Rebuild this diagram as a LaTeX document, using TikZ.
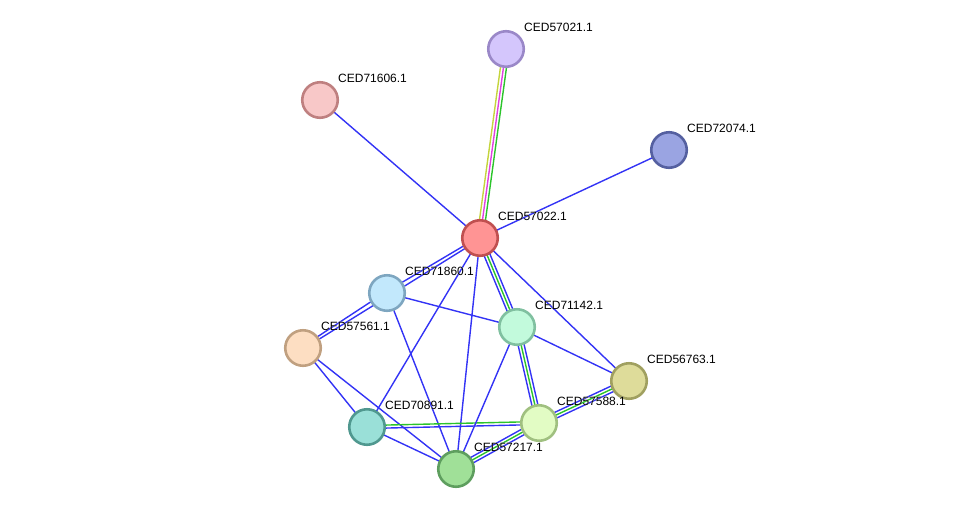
\documentclass[tikz,border=0pt]{standalone}
\usepackage{fontspec}
\setmainfont{Liberation Sans}
\usepackage[outline]{contour}
\contourlength{1.2pt}
\usetikzlibrary{calc, backgrounds}
\definecolor{lnkblue}{HTML}{3333F5}
\definecolor{lnkgreen}{HTML}{2BC42B}
\definecolor{lnkmag}{HTML}{E040E0}
\definecolor{lnkyel}{HTML}{C4D43C}
% node colours: d = border, f = fill
\definecolor{d57021}{HTML}{9A88C8}\definecolor{f57021}{HTML}{D4C6FC}
\definecolor{d71606}{HTML}{BF8080}\definecolor{f71606}{HTML}{F8C8C8}
\definecolor{d72074}{HTML}{5560A0}\definecolor{f72074}{HTML}{9AA4E2}
\definecolor{d57022}{HTML}{C05050}\definecolor{f57022}{HTML}{FF9494}
\definecolor{d71860}{HTML}{7EA6C0}\definecolor{f71860}{HTML}{C2E8FC}
\definecolor{d57561}{HTML}{C0A080}\definecolor{f57561}{HTML}{FDDEC2}
\definecolor{d71142}{HTML}{80C0A0}\definecolor{f71142}{HTML}{C2FADC}
\definecolor{d56763}{HTML}{A0A060}\definecolor{f56763}{HTML}{DEDC9A}
\definecolor{d70891}{HTML}{50988F}\definecolor{f70891}{HTML}{9AE0D8}
\definecolor{d57588}{HTML}{A0C080}\definecolor{f57588}{HTML}{E2FCC4}
\definecolor{d57217}{HTML}{5E9E5E}\definecolor{f57217}{HTML}{A0E098}
\tikzset{
  prot/.style={circle, draw=d#1, fill=f#1, line width=2.6pt,
               minimum size=35.5pt, inner sep=0pt},
  lbl/.style={font=\fontsize{12}{14}\selectfont, anchor=west, inner sep=0pt},
  lnk/.style={line width=1.4pt, #1},
  lnk/.default=lnkblue,
}
% one line of an edge, shifted sideways by #3
\newcommand{\lnkline}[4]{%
  \draw[lnk=#4] ($(#1)!#3!90:(#2)$) -- ($(#2)!#3!-90:(#1)$);}

\begin{document}
\begin{tikzpicture}[x=1pt, y=-1pt]
  \useasboundingbox (0,0) rectangle (976,515);

  % Proteins (pixel positions)
  \node[prot=57021] (p57021) at (506, 49) {};
  \node[prot=71606] (p71606) at (320,100) {};
  \node[prot=72074] (p72074) at (669,150) {};
  \node[prot=57022] (p57022) at (480,238) {};
  \node[prot=71860] (p71860) at (387,293) {};
  \node[prot=57561] (p57561) at (303,348) {};
  \node[prot=71142] (p71142) at (517,327) {};
  \node[prot=56763] (p56763) at (629,381) {};
  \node[prot=70891] (p70891) at (367,427) {};
  \node[prot=57588] (p57588) at (539,423) {};
  \node[prot=57217] (p57217) at (456,469) {};

  % Labels
  \foreach \p in {57021,71606,72074,57022,71860,57561,71142,56763,70891,57588,57217}
    \node[lbl] (l\p) at ($(p\p)+(18,-22)$) {\contour{white}{CED\p.1}};

  % Edges
  \begin{scope}[on background layer]
    \lnkline{p57022}{p57021}{3pt}{lnkyel}
    \lnkline{p57022}{p57021}{0pt}{lnkmag}
    \lnkline{p57022}{p57021}{-3pt}{lnkgreen}
    \lnkline{p57022}{p71606}{0pt}{lnkblue}
    \lnkline{p57022}{p72074}{0pt}{lnkblue}
    \lnkline{p57561}{p71860}{1.5pt}{lnkblue}
    \lnkline{p71860}{p57022}{1.5pt}{lnkblue}
    \lnkline{p57561}{p57022}{-1pt}{lnkblue}
    \lnkline{p57022}{p71142}{-3pt}{lnkblue}
    \lnkline{p57022}{p71142}{0pt}{lnkgreen}
    \lnkline{p57022}{p71142}{3pt}{lnkblue}
    \lnkline{p71142}{p57588}{-3pt}{lnkblue}
    \lnkline{p71142}{p57588}{0pt}{lnkgreen}
    \lnkline{p71142}{p57588}{3pt}{lnkblue}
    \lnkline{p57022}{p56763}{0pt}{lnkblue}
    \lnkline{p57022}{p70891}{0pt}{lnkblue}
    \lnkline{p57022}{p57217}{0pt}{lnkblue}
    \lnkline{p71860}{p71142}{0pt}{lnkblue}
    \lnkline{p71860}{p57217}{0pt}{lnkblue}
    \lnkline{p57561}{p70891}{0pt}{lnkblue}
    \lnkline{p57561}{p57217}{0pt}{lnkblue}
    \lnkline{p70891}{p57588}{-1.5pt}{lnkblue}
    \lnkline{p70891}{p57588}{1.5pt}{lnkgreen}
    \lnkline{p70891}{p57217}{0pt}{lnkblue}
    \lnkline{p71142}{p57217}{0pt}{lnkblue}
    \lnkline{p71142}{p56763}{0pt}{lnkblue}
    \lnkline{p57217}{p57588}{-3pt}{lnkblue}
    \lnkline{p57217}{p57588}{0pt}{lnkgreen}
    \lnkline{p57217}{p57588}{3pt}{lnkblue}
    \lnkline{p57588}{p56763}{-3pt}{lnkblue}
    \lnkline{p57588}{p56763}{0pt}{lnkgreen}
    \lnkline{p57588}{p56763}{3pt}{lnkblue}
  \end{scope}
\end{tikzpicture}
\end{document}
